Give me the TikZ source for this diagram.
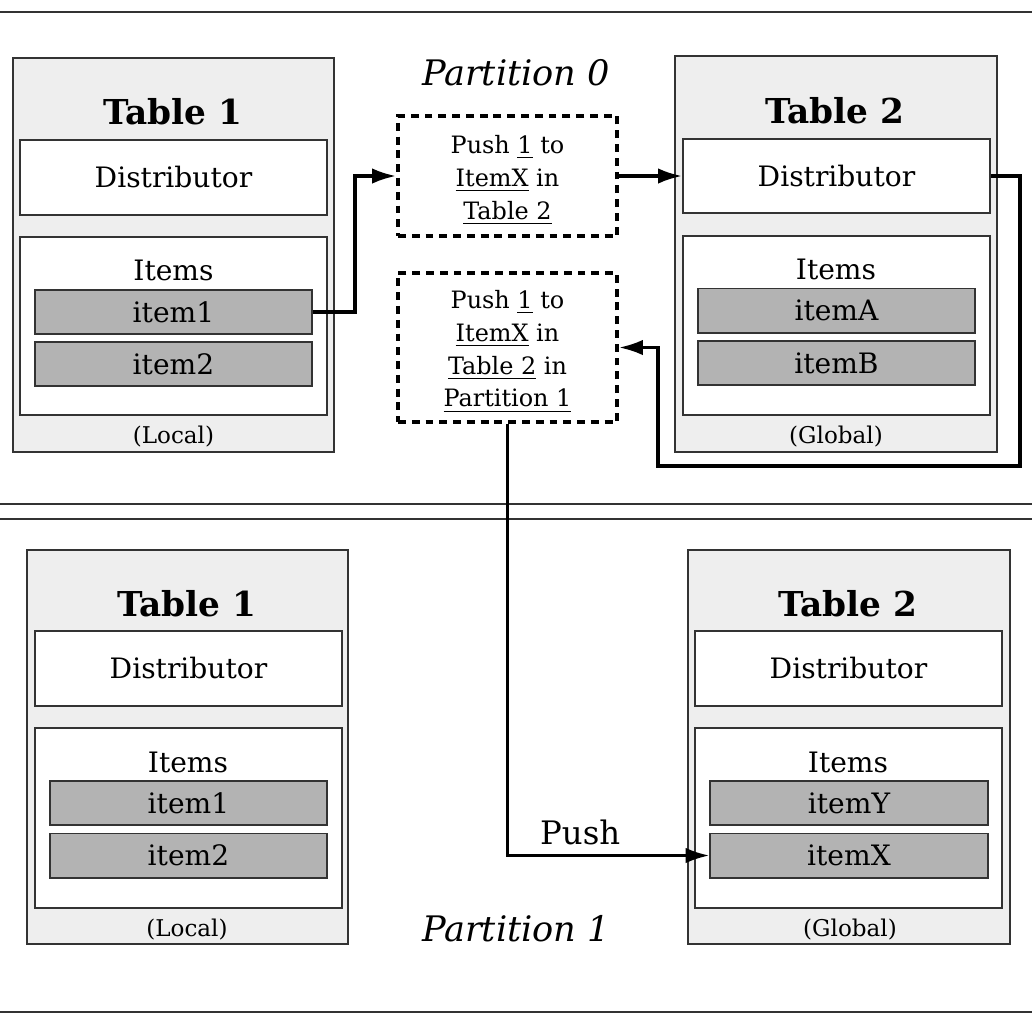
\documentclass[tikz,border=0pt]{standalone}
\usepackage{fontspec}
\setmainfont{DejaVu Serif}
\usepackage{xcolor}
\usetikzlibrary{arrows.meta, positioning, calc}

\definecolor{tablegray}{HTML}{EEEEEE}
\definecolor{itemgray}{HTML}{B3B3B3}

\begin{document}
\begin{tikzpicture}[
		x=0.0125cm, y=-0.0125cm,
		>={Latex[length=8.5pt,width=5.5pt]},
		frame/.style={draw=black!80, line width=0.7pt},
		tablebox/.style={frame, fill=tablegray, inner sep=0pt, minimum width=4.0125cm, minimum height=4.925cm},
		partbox/.style={frame, fill=white, inner sep=0pt, minimum width=3.8375cm},
		itembox/.style={frame, fill=itemgray, inner sep=0pt, minimum width=3.4625cm, minimum height=0.55cm, font=\fontsize{10}{12}\selectfont},
		tabletitle/.style={font=\fontsize{12.2}{15}\selectfont\bfseries},
		label/.style={font=\fontsize{10}{12}\selectfont},
		scopetext/.style={font=\fontsize{8.2}{10}\selectfont},
		request/.style={draw, dashed, line width=1.4pt, dash pattern=on 2.8pt off 2.1pt, inner sep=0pt, minimum width=2.7375cm, align=center, font=\fontsize{8.5}{11.7}\selectfont},
		partlabel/.style={font=\fontsize{12.5}{15}\selectfont\itshape},
		arrow/.style={->, line width=1.1pt}
		]
		
		\useasboundingbox (0,0) rectangle (1032,1032);
		
		% ==========================================
		% PARTITION FRAMES
		% ==========================================
		\draw[frame] (0,12) -- (1032,12);
		\draw[frame] (0,504) -- (1032,504);
		\draw[frame] (0,519) -- (1032,519);
		\draw[frame] (0,1012) -- (1032,1012);
		
		\node[partlabel] (p0) at (516,73) {Partition 0};
		\node[partlabel] (p1) at (516,929) {Partition 1};
		
		% ==========================================
		% PARTITION 0 - TABLE 1 (Local)
		% ==========================================
		\node[tablebox] (t1) at (173.5,255) {};
		\node[tabletitle] (t1title) at (173,112) {Table 1};
		\node[partbox, minimum height=0.9375cm, label] (dist1) at (173.5,177.5) {Distributor};
		\node[partbox, minimum height=2.225cm] (items1) at (173.5,326) {};
		\node[label] (items1lbl) at (173.5,270) {Items};
		\node[itembox] (item1) at (173.5,312) {item1};
		\node[itembox] (item2) at (173.5,364) {item2};
		\node[scopetext] (local1) at (173.5,437) {(Local)};
		
		% ==========================================
		% PARTITION 0 - TABLE 2 (Global)
		% ==========================================
		\node[tablebox, minimum height=4.95cm] (t2) at (836,254) {};
		\node[tabletitle] (t2title) at (835,111) {Table 2};
		\node[partbox, minimum height=0.925cm, label] (dist2) at (836.5,176) {Distributor};
		\node[partbox, minimum height=2.2375cm] (items2) at (836.5,325.5) {};
		\node[label] (items2lbl) at (836,269) {Items};
		\node[itembox] (itemA) at (836.5,310.5) {itemA};
		\node[itembox] (itemB) at (836.5,363) {itemB};
		\node[scopetext] (global2) at (836,437) {(Global)};
		
		% ==========================================
		% PUSH REQUESTS
		% ==========================================
		\node[request, minimum height=1.5cm] (push1) at (507.5,176) {
			\rule{0pt}{9.3pt}Push \underline{1} to\\ \underline{ItemX} in\\ \underline{Table 2}};
		\node[request, minimum height=1.8625cm] (push2) at (507.5,347.5) {
			\rule{0pt}{9.3pt}Push \underline{1} to\\ \underline{ItemX} in\\ \underline{Table 2} in\\ \underline{Partition 1}};
		
		% ==========================================
		% PARTITION 1 - TABLE 1 (Local)
		% ==========================================
		\node[tablebox] (t3) at (187.5,747) {};
		\node[tabletitle] (t3title) at (187,604) {Table 1};
		\node[partbox, minimum height=0.9375cm, label] (dist3) at (188.5,668.5) {Distributor};
		\node[partbox, minimum height=2.25cm] (items3) at (188.5,818) {};
		\node[label] (items3lbl) at (188,762) {Items};
		\node[itembox] (item3a) at (188.5,803) {item1};
		\node[itembox] (item3b) at (188.5,855.5) {item2};
		\node[scopetext] (local3) at (187,930) {(Local)};
		
		% ==========================================
		% PARTITION 1 - TABLE 2 (Global)
		% ==========================================
		\node[tablebox] (t4) at (849,747) {};
		\node[tabletitle] (t4title) at (848,604) {Table 2};
		\node[partbox, minimum height=0.9375cm, label] (dist4) at (848.5,668.5) {Distributor};
		\node[partbox, minimum height=2.25cm] (items4) at (848.5,818) {};
		\node[label] (items4lbl) at (848,762) {Items};
		\node[itembox] (itemY) at (849,803) {itemY};
		\node[itembox] (itemX) at (849,855.5) {itemX};
		\node[scopetext] (global4) at (850,930) {(Global)};
		
		% ==========================================
		% CONNECTORS
		% ==========================================
		\coordinate (back) at ($(push2.east)+(39,0)$);
		
		\draw[arrow] (item1.east) -- ++(42,0) |- (push1.west);
		\draw[arrow] (push1.east) -- (dist2.west);
		\draw[arrow] (dist2.east) -- ++(29,0) -- ++(0,290) -| (back) -- (push2.east);
		\draw[arrow] (push2.south) |- (itemX.west)
		node[pos=0.68, above=0pt, font=\fontsize{11.5}{13}\selectfont] (pushlbl) {Push};
		
	\end{tikzpicture}
\end{document}
